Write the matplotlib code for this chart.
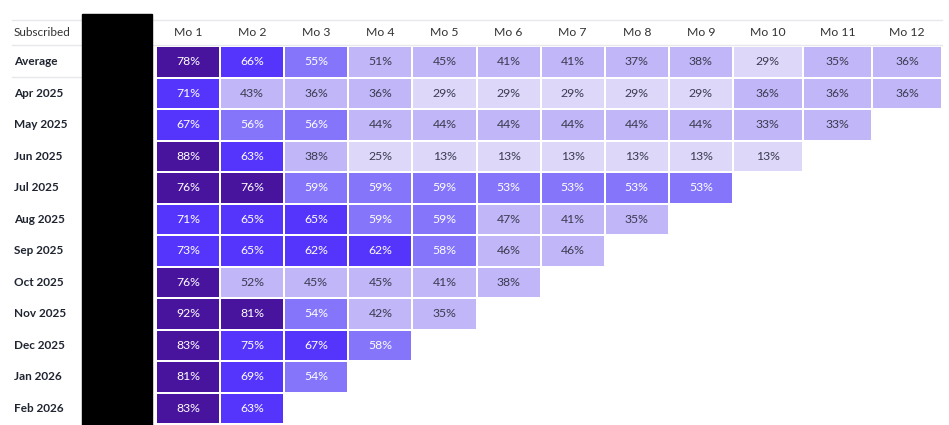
import numpy as np
import matplotlib
matplotlib.use("Agg")
import matplotlib.pyplot as plt
from matplotlib.colors import ListedColormap, BoundaryNorm
from matplotlib.patches import Rectangle
from matplotlib.transforms import blended_transform_factory

plt.rcParams['font.family'] = ['Lato', 'DejaVu Sans']

months = ["Mo %d" % i for i in range(1, 13)]
cohorts = ["Average", "Apr 2025", "May 2025", "Jun 2025", "Jul 2025", "Aug 2025",
           "Sep 2025", "Oct 2025", "Nov 2025", "Dec 2025", "Jan 2026", "Feb 2026"]

average = [78, 66, 55, 51, 45, 41, 41, 37, 38, 29, 35, 36]
apr_2025 = [71, 43, 36, 36, 29, 29, 29, 29, 29, 36, 36, 36]
may_2025 = [67, 56, 56, 44, 44, 44, 44, 44, 44, 33, 33]
jun_2025 = [88, 63, 38, 25, 13, 13, 13, 13, 13, 13]
jul_2025 = [76, 76, 59, 59, 59, 53, 53, 53, 53]
aug_2025 = [71, 65, 65, 59, 59, 47, 41, 35]
sep_2025 = [73, 65, 62, 62, 58, 46, 46]
oct_2025 = [76, 52, 45, 45, 41, 38]
nov_2025 = [92, 81, 54, 42, 35]
dec_2025 = [83, 75, 67, 58]
jan_2026 = [81, 69, 54]
feb_2026 = [83, 63]

rows = [average, apr_2025, may_2025, jun_2025, jul_2025, aug_2025,
        sep_2025, oct_2025, nov_2025, dec_2025, jan_2026, feb_2026]

grid = np.full((len(rows), len(months)), np.nan)
for i, r in enumerate(rows):
    grid[i, :len(r)] = r
grid = np.ma.masked_invalid(grid)

# discrete colour steps like the dashboard
cmap = ListedColormap(["#ddd7fa", "#c0b6f8", "#8475fb", "#5535fb", "#48149e"])
cmap.set_bad("white")
norm = BoundaryNorm([0, 30, 52.5, 61, 75.5, 101], cmap.N)

W, H = 949, 425
fig = plt.figure(figsize=(W / 100, H / 100), dpi=100)

# column widths: the last three columns are a bit wider
widths = np.array([1.0] * 9 + [1.087] * 3)
xedges = np.concatenate([[0], np.cumsum(widths)])
yedges = np.arange(len(rows) + 1)

left, right, top, bottom = 156, 942, 46, 424
ax = fig.add_axes([left / W, 1 - bottom / H, (right - left) / W, (bottom - top) / H])
ax.pcolormesh(xedges, yedges, grid, cmap=cmap, norm=norm,
              edgecolors="white", linewidth=1.1)
ax.set_xlim(xedges[0], xedges[-1])
ax.set_ylim(len(rows), 0)
ax.axis("off")

xc = (xedges[:-1] + xedges[1:]) / 2
for i, r in enumerate(rows):
    for j, v in enumerate(r):
        col = "white" if v >= 52.5 else "#3b3b4f"
        ax.text(xc[j], i + 0.5, "%d%%" % v, ha="center", va="center",
                fontsize=8.8, color=col)

for j, m in enumerate(months):
    ax.text(xc[j], -0.42, m, ha="center", va="center", fontsize=8.8,
            color="#333333", clip_on=False)

tr = blended_transform_factory(fig.transFigure, ax.transData)
ax.text(14 / W, -0.42, "Subscribed", transform=tr, ha="left", va="center",
        fontsize=8.5, color="#333333", clip_on=False)
for i, c in enumerate(cohorts):
    ax.text(14 / W, i + 0.5, c, transform=tr, ha="left", va="center",
            fontsize=8.5, fontweight="bold", color="#1f2430", clip_on=False)

# table rules
fig.add_artist(plt.Line2D([12 / W, 942 / W], [1 - 20 / H, 1 - 20 / H],
                          color="#e6e8ec", lw=1))
fig.add_artist(plt.Line2D([12 / W, 942 / W], [1 - 45 / H, 1 - 45 / H],
                          color="#e6e8ec", lw=1))
fig.add_artist(plt.Line2D([12 / W, 82 / W], [1 - 77 / H, 1 - 77 / H],
                          color="#e6e8ec", lw=1))

# redacted block
fig.add_artist(Rectangle((82 / W, 0), 70 / W, 1 - 14 / H,
                         transform=fig.transFigure, color="black", zorder=5))

fig.savefig("out.png", dpi=100)
